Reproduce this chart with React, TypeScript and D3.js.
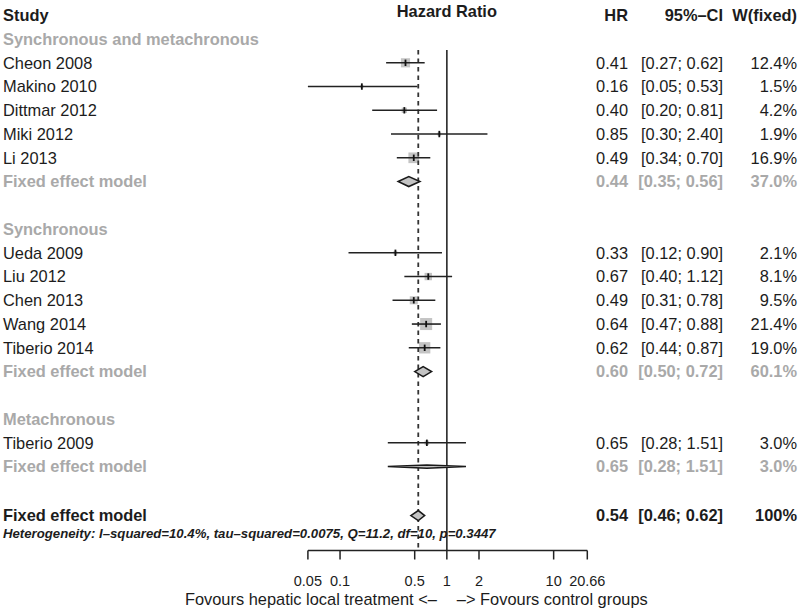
import React from "react";
import * as d3 from "d3";

const studies = ["Cheon 2008", "Makino 2010", "Dittmar 2012", "Miki 2012", "Li 2013", "Ueda 2009", "Liu 2012", "Chen 2013", "Wang 2014", "Tiberio 2014", "Tiberio 2009"];
const studyGroup = [0, 0, 0, 0, 0, 1, 1, 1, 1, 1, 2];
const hr = [0.41, 0.16, 0.40, 0.85, 0.49, 0.33, 0.67, 0.49, 0.64, 0.62, 0.65];
const lower = [0.27, 0.05, 0.20, 0.30, 0.34, 0.12, 0.40, 0.31, 0.47, 0.44, 0.28];
const upper = [0.62, 0.53, 0.81, 2.40, 0.70, 0.90, 1.12, 0.78, 0.88, 0.87, 1.51];
const weight = [12.4, 1.5, 4.2, 1.9, 16.9, 2.1, 8.1, 9.5, 21.4, 19.0, 3.0];

const groupNames = ["Synchronous and metachronous", "Synchronous", "Metachronous"];
const groupHR = [0.44, 0.60, 0.65];
const groupLower = [0.35, 0.50, 0.28];
const groupUpper = [0.56, 0.72, 1.51];
const groupWeight = [37.0, 60.1, 3.0];

const overallHR = 0.54;
const overallLower = 0.46;
const overallUpper = 0.62;
const heterogeneity = "Heterogeneity: I\u2013squared=10.4%, tau\u2013squared=0.0075, Q=11.2, df=10, p=0.3447";

const tickValues = [0.05, 0.1, 0.5, 1, 2, 10, 20.66];
const tickLabels = ["0.05", "0.1", "0.5", "1", "2", "10", "20.66"];
const labelLeft = "Fovours hepatic local treatment <\u2013";
const labelRight = "\u2013> Fovours control groups";
const ciHeader = "95%\u2013CI";

const FONT = "'Liberation Sans', Arial, Helvetica, sans-serif";
const GRAY = "#a9a9a9";
const BLACK = "#1c1c1c";
const FS = 16.4;

type Row =
  | { kind: "group"; label: string }
  | { kind: "study"; i: number }
  | { kind: "summary"; g: number }
  | { kind: "blank" };

export default function App() {
  const W = 800, H = 612;
  const x = d3.scaleLog().domain([0.05, 20.66]).range([307.9, 587.3]);
  const f2 = d3.format(".2f");
  const f1 = d3.format(".1f");

  const rows: Row[] = [];
  groupNames.forEach((name, g) => {
    rows.push({ kind: "group", label: name });
    studies.forEach((_, i) => {
      if (studyGroup[i] === g) rows.push({ kind: "study", i });
    });
    rows.push({ kind: "summary", g });
    rows.push({ kind: "blank" });
  });
  const overallRow = rows.length + 1;
  const y0 = 15.3, dy = 23.75;
  const rowY = (r: number) => y0 + dy * r;

  const xHR = 628, xCI = 723, xW = 797;
  const plotTop = 50, axisY = 550.5;

  const textCols = (yy: number, h: number, l: number, u: number, w: string, color: string, bold: boolean, key: string) => (
    <g key={key} fill={color} fontWeight={bold ? "bold" : "normal"} fontSize={FS}>
      <text x={xHR} y={yy} dy="0.35em" textAnchor="end">{f2(h)}</text>
      <text x={xCI} y={yy} dy="0.35em" textAnchor="end">{`[${f2(l)}; ${f2(u)}]`}</text>
      <text x={xW} y={yy} dy="0.35em" textAnchor="end">{w}</text>
    </g>
  );

  const diamond = (c: number, l: number, u: number, yy: number, hh: number) =>
    `M${x(l)},${yy} L${x(c)},${yy - hh} L${x(u)},${yy} L${x(c)},${yy + hh} Z`;

  return (
    <svg width={W} height={H} style={{ position: "absolute", left: 0, top: 0, background: "#fff" }} fontFamily={FONT}>
      <rect width={W} height={H} fill="#fff" />
      {/* headers */}
      <g fontWeight="bold" fontSize={FS} fill={BLACK}>
        <text x={3} y={rowY(0)} dy="0.35em">Study</text>
        <text x={x(1)} y={rowY(0) - 4.5} dy="0.35em" textAnchor="middle">Hazard Ratio</text>
        <text x={xHR} y={rowY(0)} dy="0.35em" textAnchor="end">HR</text>
        <text x={xCI} y={rowY(0)} dy="0.35em" textAnchor="end">{ciHeader}</text>
        <text x={xW} y={rowY(0)} dy="0.35em" textAnchor="end">W(fixed)</text>
      </g>

      {/* boxes */}
      {rows.map((row, r) => {
        if (row.kind !== "study") return null;
        const i = row.i;
        const s = 2.6 * Math.sqrt(weight[i]);
        const yy = rowY(r + 1);
        return <rect key={`b${i}`} x={x(hr[i]) - s / 2} y={yy - s / 2} width={s} height={s} fill="#c4c4c4" />;
      })}

      {/* reference lines */}
      <line x1={x(1)} x2={x(1)} y1={plotTop} y2={axisY} stroke="#333" strokeWidth={1.7} />
      <line x1={x(overallHR)} x2={x(overallHR)} y1={plotTop} y2={axisY} stroke="#333" strokeWidth={1.8} strokeDasharray="4.5,4" />

      {rows.map((row, r) => {
        const yy = rowY(r + 1);
        if (row.kind === "group") {
          return (
            <text key={`g${r}`} x={3} y={yy} dy="0.35em" fontSize={FS} fontWeight="bold" fill={GRAY}>{row.label}</text>
          );
        }
        if (row.kind === "study") {
          const i = row.i;
          return (
            <g key={`s${i}`}>
              <text x={3} y={yy} dy="0.35em" fontSize={FS} fill={BLACK}>{studies[i]}</text>
              <line x1={x(lower[i])} x2={x(upper[i])} y1={yy} y2={yy} stroke="#222" strokeWidth={1.6} />
              <line x1={x(hr[i])} x2={x(hr[i])} y1={yy - 3.2} y2={yy + 3.2} stroke="#111" strokeWidth={1.8} />
              {textCols(yy, hr[i], lower[i], upper[i], `${f1(weight[i])}%`, BLACK, false, `t${i}`)}
            </g>
          );
        }
        if (row.kind === "summary") {
          const g = row.g;
          const wpx = x(groupUpper[g]) - x(groupLower[g]);
          const hh = wpx > 60 ? 1.6 : 5;
          return (
            <g key={`m${g}`}>
              <text x={3} y={yy} dy="0.35em" fontSize={FS} fontWeight="bold" fill={GRAY}>Fixed effect model</text>
              <path d={diamond(groupHR[g], groupLower[g], groupUpper[g], yy, hh)} fill="#c4c4c4" stroke="#1a1a1a" strokeWidth={1.5} />
              {textCols(yy, groupHR[g], groupLower[g], groupUpper[g], `${f1(groupWeight[g])}%`, GRAY, true, `mt${g}`)}
            </g>
          );
        }
        return null;
      })}

      {/* overall */}
      <g>
        <text x={3} y={rowY(overallRow) + 1.5} dy="0.35em" fontSize={FS} fontWeight="bold" fill={BLACK}>Fixed effect model</text>
        <path d={diamond(overallHR, overallLower, overallUpper, rowY(overallRow) + 1.5, 5)} fill="#c4c4c4" stroke="#1a1a1a" strokeWidth={1.5} />
        {textCols(rowY(overallRow) + 1.5, overallHR, overallLower, overallUpper, "100%", BLACK, true, "ov")}
        <text x={3} y={rowY(overallRow) + 19} dy="0.35em" fontSize={13.2} fontWeight="bold" fontStyle="italic" fill={BLACK}>{heterogeneity}</text>
      </g>

      {/* axis */}
      <g stroke="#222" strokeWidth={1.5}>
        <line x1={x(0.05)} x2={x(20.66)} y1={axisY} y2={axisY} />
        {tickValues.map((t) => (
          <line key={`tk${t}`} x1={x(t)} x2={x(t)} y1={axisY} y2={axisY + 9} />
        ))}
      </g>
      <g fontSize={14.5} fill={BLACK} textAnchor="middle">
        {tickValues.map((t, i) => (
          <text key={`tl${t}`} x={x(t)} y={586}>{tickLabels[i]}</text>
        ))}
      </g>
      <text x={x(1) - 10} y={605} fontSize={FS} fill={BLACK} textAnchor="end">{labelLeft}</text>
      <text x={x(1) + 10} y={605} fontSize={FS} fill={BLACK}>{labelRight}</text>
    </svg>
  );
}
